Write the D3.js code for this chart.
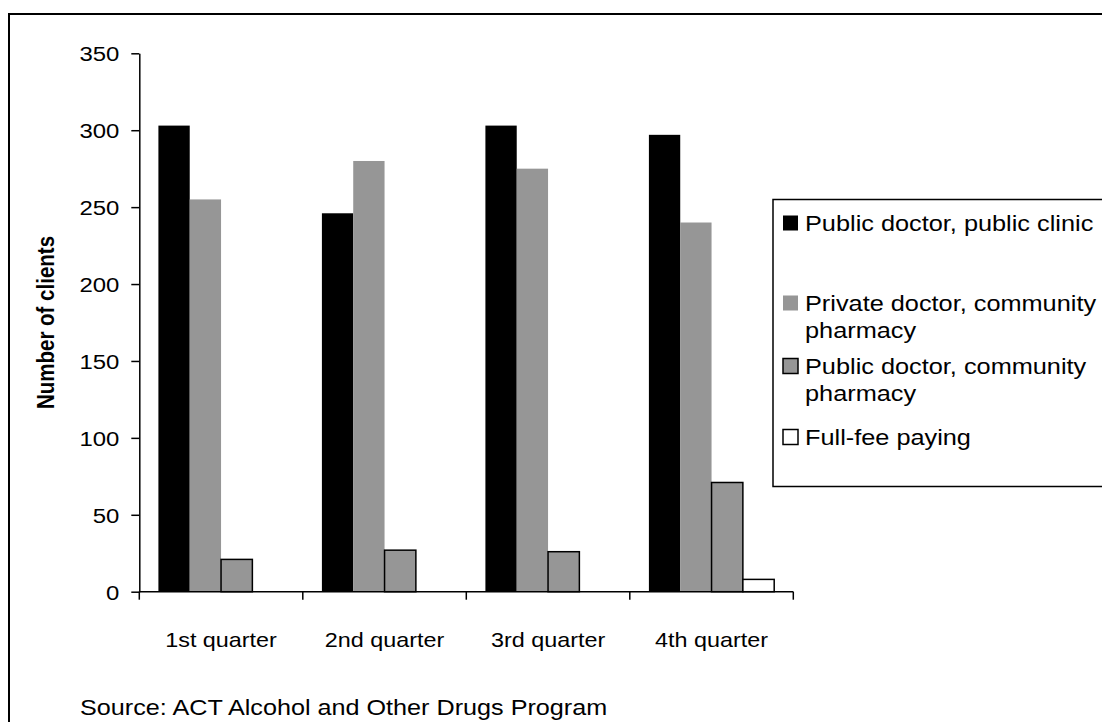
<!DOCTYPE html>
<html>
<head>
<meta charset="utf-8">
<script src="https://cdn.jsdelivr.net/npm/d3@7"></script>
<style>
  html, body { margin: 0; padding: 0; background: #fff; }
  svg { display: block; }
  text { font-family: "Liberation Sans", Arial, sans-serif; fill: #000; }
</style>
</head>
<body>
<svg id="chart" width="1102" height="722"></svg>
<script>
// Clients by dosing arrangement, per quarter
const quarters = ["1st quarter", "2nd quarter", "3rd quarter", "4th quarter"];
const seriesNames = [
  ["Public doctor, public clinic"],
  ["Private doctor, community", "pharmacy"],
  ["Public doctor, community", "pharmacy"],
  ["Full-fee paying"]
];
const publicClinic = [303, 246, 303, 297];
const privateDoctorPharmacy = [255, 280, 275, 240];
const publicDoctorPharmacy = [21, 27, 26, 71];
const fullFee = [0, 0, 0, 8];
const yTicks = [0, 50, 100, 150, 200, 250, 300, 350];
const sourceNote = "Source: ACT Alcohol and Other Drugs Program";

const seriesValues = [publicClinic, privateDoctorPharmacy, publicDoctorPharmacy, fullFee];
const fills = ["#000000", "#969696", "#969696", "#ffffff"];
const strokes = ["none", "none", "#000000", "#000000"];

const SX = 1.14; // horizontal glyph stretch

const svg = d3.select("#chart");

// outer frame
svg.append("rect")
  .attr("x", 9).attr("y", 14).attr("width", 1300).attr("height", 900)
  .attr("fill", "none").attr("stroke", "#000").attr("stroke-width", 2);

const plot = { left: 139.3, right: 793.3, top: 53.3, bottom: 591.7 };

const y = d3.scaleLinear().domain([0, 350]).range([plot.bottom, plot.top]);
const x0 = d3.scaleBand().domain(quarters).range([plot.left, plot.right]).padding(0);
const x1 = d3.scaleBand().domain(d3.range(seriesValues.length))
  .range([0, x0.bandwidth()]).paddingInner(0).paddingOuter(0.61);

// bars
const rows = quarters.map((q, i) => ({ q, vals: seriesValues.map(s => s[i]) }));
const groups = svg.append("g").selectAll("g").data(rows).join("g")
  .attr("transform", d => `translate(${x0(d.q)},0)`);
groups.selectAll("rect")
  .data(d => d.vals.map((v, k) => ({ v, k })).filter(e => e.v > 0))
  .join("rect")
  .attr("x", e => x1(e.k))
  .attr("y", e => y(e.v))
  .attr("width", x1.bandwidth())
  .attr("height", e => y(0) - y(e.v))
  .attr("fill", e => fills[e.k])
  .attr("stroke", e => strokes[e.k])
  .attr("stroke-width", 1.5);

// y axis
const yAxis = svg.append("g")
  .attr("transform", `translate(${plot.left},0)`)
  .call(d3.axisLeft(y).tickValues(yTicks).tickSize(8).tickSizeOuter(0));
yAxis.select(".domain").attr("stroke", "#000").attr("stroke-width", 1.5);
yAxis.selectAll(".tick line").attr("stroke", "#000").attr("stroke-width", 1.5);
yAxis.selectAll(".tick text")
  .attr("x", null).attr("dy", "0.36em")
  .attr("transform", `translate(-20,0) scale(${SX},1)`)
  .style("font-size", "21px").attr("font-family", null);

// x axis: line with ticks at category boundaries
const xAxis = svg.append("g").attr("transform", `translate(0,${plot.bottom})`);
xAxis.append("line")
  .attr("x1", plot.left).attr("x2", plot.right)
  .attr("stroke", "#000").attr("stroke-width", 1.5);
const edges = quarters.map(q => x0(q)).concat([x0.range()[1]]);
xAxis.selectAll("line.edge").data(edges).join("line")
  .attr("class", "edge")
  .attr("x1", d => d).attr("x2", d => d)
  .attr("y1", 0).attr("y2", 8)
  .attr("stroke", "#000").attr("stroke-width", 1.5);
xAxis.selectAll("text").data(quarters).join("text")
  .attr("transform", d => `translate(${x0(d) + x0.bandwidth() / 2},55) scale(${SX},1)`)
  .attr("text-anchor", "middle")
  .style("font-size", "20.5px")
  .text(d => d);

// y axis title
svg.append("text")
  .attr("transform", `translate(54,${(plot.top + plot.bottom) / 2}) scale(${SX},1) rotate(-90)`)
  .attr("text-anchor", "middle")
  .style("font-size", "20.5px").style("font-weight", "bold")
  .text("Number of clients");

// legend
const legend = svg.append("g");
legend.append("rect")
  .attr("x", 773).attr("y", 199.5).attr("width", 400).attr("height", 287)
  .attr("fill", "#fff").attr("stroke", "#000").attr("stroke-width", 1.5);
const legendRows = [223, 303, 366, 437];
const lineGap = 27;
seriesNames.forEach((lines, k) => {
  const cy = legendRows[k];
  legend.append("rect")
    .attr("x", 783).attr("y", cy - 7.5).attr("width", 15).attr("height", 15)
    .attr("fill", fills[k])
    .attr("stroke", strokes[k] === "none" ? "none" : "#000")
    .attr("stroke-width", 1.5);
  lines.forEach((t, j) => {
    legend.append("text")
      .attr("transform", `translate(805,${cy + j * lineGap}) scale(${SX},1)`)
      .attr("dy", "0.36em")
      .style("font-size", "22.2px")
      .text(t);
  });
});

// source note
svg.append("text")
  .attr("transform", `translate(80,715) scale(${SX},1)`)
  .style("font-size", "22.1px")
  .text(sourceNote);
</script>
</body>
</html>
